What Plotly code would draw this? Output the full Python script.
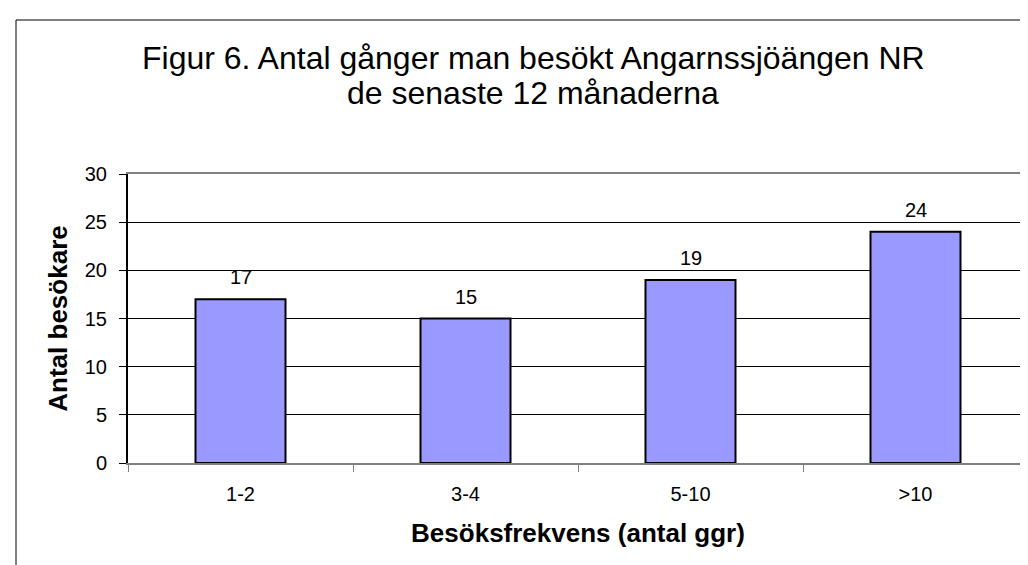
import plotly.graph_objects as go

# ── data ──────────────────────────────────────────────────────────
categories = ["1-2", "3-4", "5-10", ">10"]
visitors = [17, 15, 19, 24]
y_ticks = [0, 5, 10, 15, 20, 25, 30]

TITLE_1 = "Figur 6. Antal gånger man besökt Angarnssjöängen NR"
TITLE_2 = "de senaste 12 månaderna"

BAR_FILL = "#9999FF"
GRID = "#000000"
FRAME_GRAY = "#808080"
FONT = "Liberation Sans, Arial, sans-serif"

W, H = 1028, 565
L, R, T, B = 120, 8, 166, 110   # plot area 120..1020 x 166..455
PW, PH = W - L - R, H - T - B

fig = go.Figure(go.Bar(
    x=categories,
    y=visitors,
    marker=dict(color=BAR_FILL, line=dict(color="black", width=2)),
    width=0.4,
    hoverinfo="x+y",
))

# value labels above bars
for c, v in zip(categories, visitors):
    fig.add_annotation(x=c, y=v, text=str(v), showarrow=False,
                       yanchor="bottom", yshift=9,
                       font=dict(size=20, color="black", family=FONT))

# title, two centred lines
for txt, ymid in [(TITLE_1, 50), (TITLE_2, 85)]:
    fig.add_annotation(xref="paper", yref="paper",
                       x=(525 - L) / PW, y=(T + PH - ymid) / PH,
                       text=txt, showarrow=False,
                       xanchor="center", yanchor="middle",
                       font=dict(size=32, color="black", family=FONT))

# outer chart frame (left and top edges visible, rest runs off the picture)
fig.add_shape(type="rect", xref="paper", yref="paper",
              x0=(8 - L) / PW, x1=1.2, y0=-0.6, y1=(T + PH - 12) / PH,
              line=dict(color="black", width=1), layer="below")
# right edge of plot area in gray
fig.add_shape(type="line", xref="paper", yref="paper", x0=1, x1=1, y0=0, y1=1,
              line=dict(color=FRAME_GRAY, width=2))

fig.update_layout(
    width=W, height=H,
    margin=dict(l=L, r=R, t=T, b=B, autoexpand=False),
    paper_bgcolor="white",
    plot_bgcolor="white",
    font=dict(family=FONT, color="black"),
    showlegend=False,
    xaxis=dict(
        showgrid=False,
        showline=True, linecolor=FRAME_GRAY, linewidth=2, mirror=True,
        ticks="outside", ticklen=7, tickcolor=FRAME_GRAY, tickson="boundaries",
        tickfont=dict(size=20, family=FONT, color="black"),
        ticklabelstandoff=12,
        title=dict(text="<b>Besöksfrekvens (antal ggr)</b>", standoff=20,
                   font=dict(size=26, family=FONT, color="black")),
        automargin=False,
    ),
    yaxis=dict(
        range=[0, 30],
        tickvals=y_ticks,
        showgrid=True, gridcolor=GRID, gridwidth=1,
        showline=True, linecolor="black", linewidth=2,
        ticks="outside", ticklen=7, tickcolor="black",
        tickfont=dict(size=20, family=FONT, color="black"),
        ticklabelstandoff=8,
        title=dict(text="<b>Antal besökare</b>", standoff=10,
                   font=dict(size=26, family=FONT, color="black")),
        zeroline=False,
        automargin=False,
    ),
)

fig.write_html("out.html")
